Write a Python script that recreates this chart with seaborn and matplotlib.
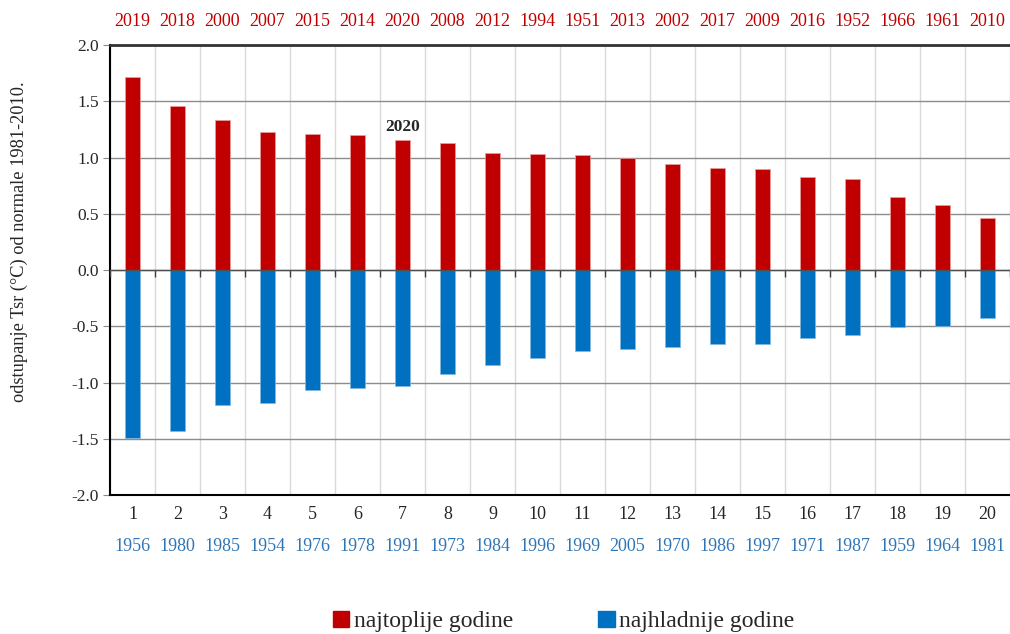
import matplotlib
matplotlib.use("Agg")
import numpy as np
import pandas as pd
import matplotlib.pyplot as plt
from matplotlib.patches import Patch
import seaborn as sns

# rang godine (1 = najekstremnija)
rang = list(range(1, 21))

# najtoplije godine i odstupanje od normale 1981-2010
topla_god = ['2019', '2018', '2000', '2007', '2015', '2014', '2020', '2008', '2012', '1994',
             '1951', '2013', '2002', '2017', '2009', '2016', '1952', '1966', '1961', '2010']
topla_odst = [1.72, 1.46, 1.33, 1.23, 1.21, 1.20, 1.16, 1.13, 1.04, 1.03,
              1.02, 1.00, 0.94, 0.91, 0.90, 0.83, 0.81, 0.65, 0.58, 0.46]

# najhladnije godine
hladna_god = ['1956', '1980', '1985', '1954', '1976', '1978', '1991', '1973', '1984', '1996',
              '1969', '2005', '1970', '1986', '1997', '1971', '1987', '1959', '1964', '1981']
hladna_odst = [-1.49, -1.43, -1.20, -1.18, -1.07, -1.05, -1.03, -0.92, -0.84, -0.78,
               -0.72, -0.70, -0.68, -0.66, -0.66, -0.60, -0.58, -0.51, -0.50, -0.43]

df = pd.DataFrame({'rang': rang, 'topla': topla_odst, 'hladna': hladna_odst})

sns.set_style('white')
plt.rcParams['font.family'] = ['Liberation Serif', 'DejaVu Serif']
plt.rcParams['axes.unicode_minus'] = False

crvena = '#C00000'
plava = '#0070C0'

fig = plt.figure(figsize=(10.1, 6.34), dpi=100)
ax = fig.add_axes([0.1089, 0.2192, 0.8911, 0.7098])

sns.barplot(data=df, x='rang', y='topla', color=crvena, width=0.33, saturation=1,
            errorbar=None, ax=ax, zorder=3, edgecolor='#e8a0a0', linewidth=0.5)
sns.barplot(data=df, x='rang', y='hladna', color=plava, width=0.33, saturation=1,
            errorbar=None, ax=ax, zorder=3, edgecolor='#80b8e0', linewidth=0.5)

ax.set_ylim(-2, 2)
ax.set_xlim(-0.5, len(rang) - 0.5)
ax.set_yticks(np.arange(-2, 2.01, 0.5))
ax.set_yticklabels([f'{v:.1f}' for v in np.arange(-2, 2.01, 0.5)], fontsize=12.5)
ax.set_xticks(range(len(rang)))
ax.set_xticklabels([str(r) for r in rang], fontsize=13)
ax.tick_params(axis='x', which='both', length=0, pad=8)
ax.tick_params(axis='y', length=5, color='#8c8c8c', pad=3, left=True)
ax.set_xlabel('')
ax.set_ylabel('odstupanje Tsr (°C) od normale 1981-2010.', fontsize=13.2)
ax.yaxis.set_label_coords(-0.091, 0.562)

# mreza
ax.set_xticks(np.arange(-0.5, len(rang), 1), minor=True)
ax.yaxis.grid(True, color='#8c8c8c', lw=1)
ax.xaxis.grid(True, which='minor', color='#d9d9d9', lw=1)
ax.set_axisbelow(True)

for s in ['left', 'bottom']:
    ax.spines[s].set_color('black')
    ax.spines[s].set_linewidth(1.5)
ax.spines['top'].set_color('#333333')
ax.spines['top'].set_linewidth(2)
ax.spines['right'].set_visible(False)

# nulta linija s oznakama
nula = ax.secondary_xaxis(0, transform=ax.transData)
nula.set_alignment('bottom')
nula.set_xticks(np.arange(-0.5, len(rang), 1))
nula.set_xticklabels([])
nula.tick_params(length=5, width=1, color='#404040', direction='out')
nula.spines['bottom'].set_color('#505050')
nula.spines['bottom'].set_linewidth(1)
nula.set_zorder(5)

# godine gore (najtoplije)
gore = ax.secondary_xaxis('top')
gore.set_xticks(range(len(rang)))
gore.set_xticklabels(topla_god, fontsize=13, color=crvena)
gore.tick_params(length=0, pad=11)
gore.spines['top'].set_visible(False)

# godine dolje (najhladnije)
dolje = ax.secondary_xaxis('bottom')
dolje.set_xticks(range(len(rang)))
dolje.set_xticklabels(hladna_god, fontsize=13, color='#2E75B6')
dolje.tick_params(length=0, pad=31)
dolje.spines['bottom'].set_visible(False)

# 2020 oznaka
i2020 = topla_god.index('2020')
ax.annotate('2020', (i2020, topla_odst[i2020]), xytext=(0, 3), textcoords='offset points',
            ha='center', va='bottom', fontsize=12.5, fontweight='bold', zorder=6)

ruke = [Patch(color=crvena, label='najtoplije godine'),
        Patch(color=plava, label='najhladnije godine')]
fig.legend(handles=ruke, loc='center', bbox_to_anchor=(0.558, 0.02), ncol=2,
           frameon=False, fontsize=17, handlelength=0.7, handleheight=0.7,
           handletextpad=0.2, columnspacing=3.6)

fig.savefig('out.png', dpi=100)
